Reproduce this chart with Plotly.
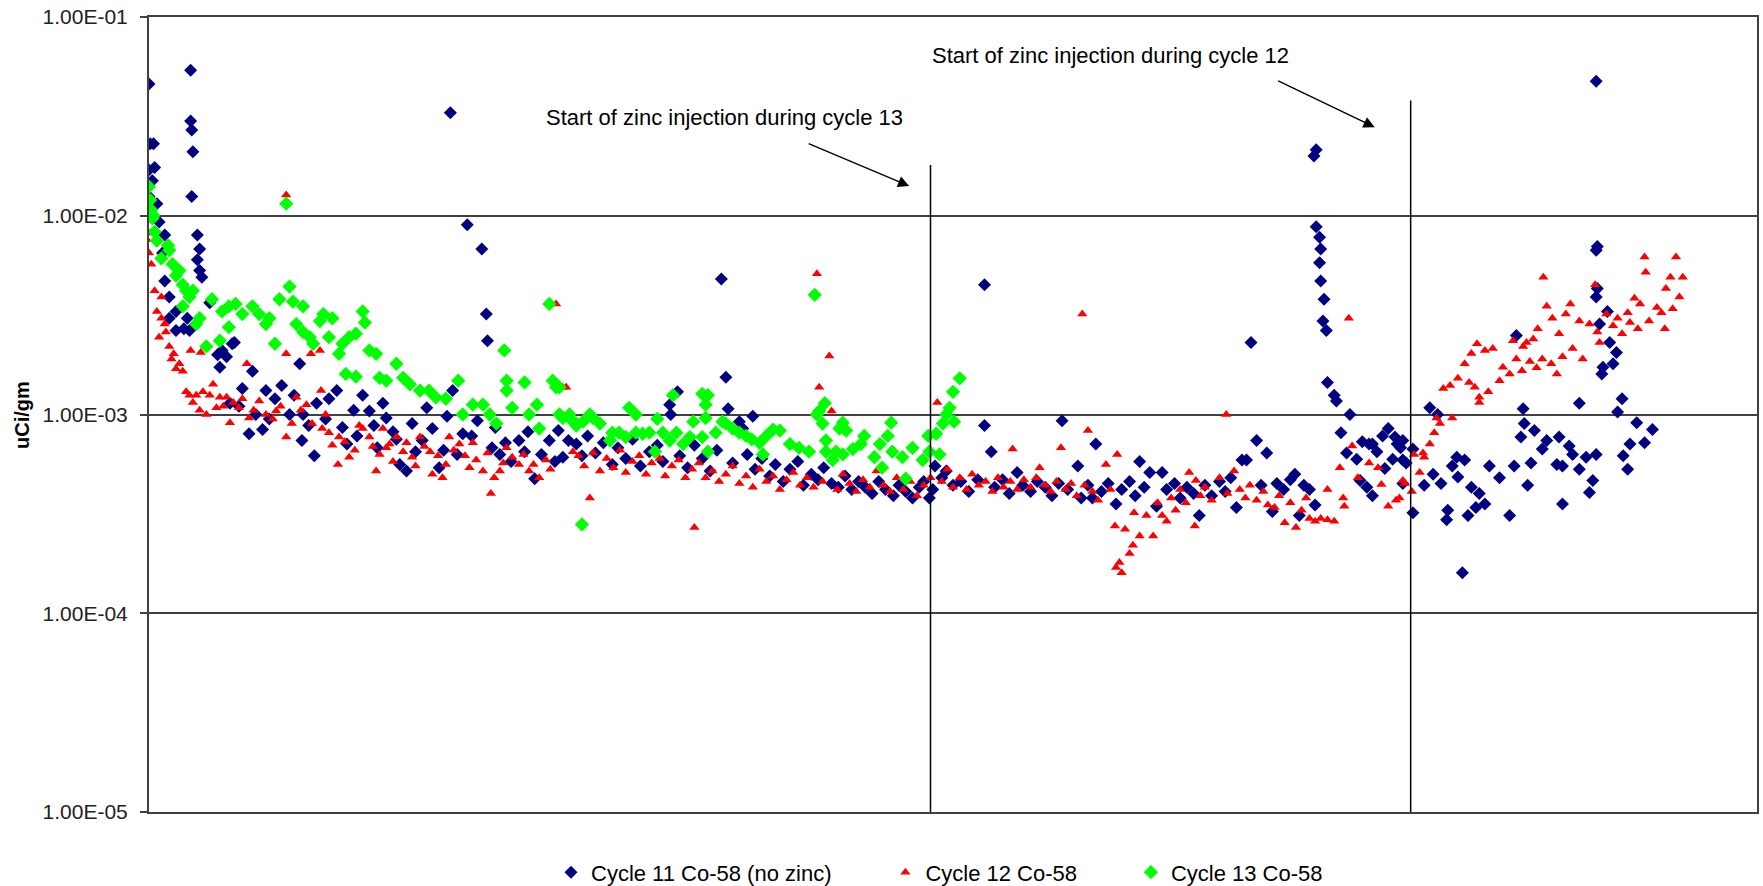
import math
import plotly.graph_objects as go

# ---------------- data (x = sample position along the run, y = uCi/gm) ----------------
cycle11 = [
    (133, 4.6e-2), (134, 2.3e-2), (137, 2.3e-2), (133, 1.7e-2), (138, 1.75e-2), (136, 1.5e-2),
    (133, 1.25e-2), (140, 1.15e-2), (142, 9.3e-3), (147, 8.0e-3), (145, 6.5e-3), (147, 4.7e-3),
    (151, 3.9e-3), (151, 3.05e-3), (157, 3.3e-3), (157, 2.65e-3), (164, 2.7e-3), (167, 3.05e-3),
    (169, 2.65e-3), (170, 5.4e-2), (170, 3.0e-2), (171, 2.7e-2), (172, 2.1e-2), (171, 1.25e-2),
    (176, 8.0e-3), (178, 6.8e-3), (176, 6.0e-3), (178, 5.3e-3), (180, 4.9e-3), (187, 3.65e-3),
    (194, 2.0e-3), (196, 1.73e-3), (198, 2.1e-3), (202, 1.95e-3), (207, 2.27e-3), (209, 2.3e-3),
    (205, 1.14e-3), (213, 1.1e-3), (216, 1.35e-3), (222, 8.0e-4), (225, 1.65e-3), (228, 1.0e-3),
    (234, 8.4e-4), (237, 1.32e-3), (240, 9.5e-4), (245, 1.2e-3), (251, 1.4e-3), (258, 1.0e-3),
    (262, 1.25e-3), (267, 1.8e-3), (269, 7.4e-4), (270, 1.0e-3), (275, 8.8e-4), (280, 6.2e-4),
    (282, 1.14e-3), (290, 9.5e-4), (293, 1.2e-3), (300, 1.32e-3), (305, 8.6e-4), (309, 7.1e-4),
    (315, 1.05e-3), (318, 7.8e-4), (323, 1.25e-3), (329, 1.04e-3), (333, 8.8e-4), (336, 6.8e-4),
    (341, 1.14e-3), (344, 9.6e-4), (350, 8.2e-4), (353, 7.5e-4), (356, 5.6e-4), (362, 5.2e-4),
    (367, 9.0e-4), (370, 6.5e-4), (376, 7.4e-4), (380, 1.08e-3), (385, 8.5e-4), (391, 5.4e-4),
    (395, 6.6e-4), (398, 9.8e-4), (401, 3.3e-2), (403, 1.32e-3), (407, 6.3e-4), (412, 8.0e-4),
    (416, 9.0e-3), (420, 7.8e-4), (425, 9.3e-4), (429, 6.8e-3), (433, 3.2e-3), (434, 2.35e-3),
    (438, 6.8e-4), (441, 8.6e-4), (445, 6.3e-4), (450, 7.2e-4), (455, 5.8e-4), (462, 7.4e-4),
    (467, 6.5e-4), (470, 8.2e-4), (476, 4.75e-4), (482, 6.3e-4), (489, 7.4e-4), (494, 5.8e-4),
    (497, 8.3e-4), (501, 6.1e-4), (506, 7.4e-4), (513, 7.1e-4), (518, 6.2e-4),
    (523, 7.8e-4), (530, 6.4e-4), (537, 7.2e-4), (545, 5.6e-4), (550, 6.8e-4), (557, 6.0e-4),
    (563, 7.5e-4), (570, 5.5e-4), (578, 6.5e-4), (585, 7.0e-4), (590, 5.8e-4), (596, 1.12e-3),
    (597, 1.0e-3), (603, 1.3e-3), (605, 6.2e-4), (612, 5.4e-4), (618, 7.0e-4), (625, 6.0e-4),
    (632, 5.2e-4), (638, 6.6e-4), (642, 4.8e-3), (646, 1.54e-3), (648, 1.07e-3), (652, 5.7e-4),
    (658, 9.2e-4), (661, 8.5e-4), (665, 6.3e-4), (670, 9.8e-4), (672, 5.3e-4), (678, 6.0e-4),
    (685, 4.9e-4), (690, 5.6e-4), (697, 4.6e-4), (703, 5.3e-4), (710, 5.8e-4), (715, 4.4e-4),
    (722, 5.0e-4), (728, 4.7e-4), (733, 5.4e-4), (740, 4.5e-4), (746, 4.3e-4), (752, 4.9e-4),
    (758, 4.2e-4), (764, 4.6e-4), (770, 4.3e-4), (776, 4.0e-4), (782, 4.6e-4), (788, 4.2e-4),
    (795, 3.9e-4), (800, 4.4e-4), (806, 4.1e-4), (812, 3.8e-4), (818, 4.3e-4), (822, 4.6e-4),
    (827, 3.8e-4), (830, 4.2e-4),
    (832, 5.5e-4), (838, 4.8e-4), (842, 5.2e-4), (848, 4.4e-4), (855, 4.6e-4), (862, 4.1e-4),
    (870, 4.7e-4), (876, 8.8e-4), (876, 4.5e-3), (882, 6.5e-4), (885, 4.3e-4), (892, 4.7e-4),
    (898, 4.0e-4), (905, 5.1e-4), (910, 4.4e-4), (917, 4.1e-4), (923, 4.6e-4), (930, 4.3e-4),
    (936, 3.9e-4), (945, 9.3e-4), (942, 4.5e-4), (950, 4.2e-4), (959, 5.5e-4), (962, 3.8e-4),
    (968, 4.4e-4), (972, 3.8e-4), (975, 7.1e-4), (980, 4.1e-4), (986, 4.5e-4), (993, 3.55e-4),
    (998, 4.2e-4), (1005, 4.6e-4), (1010, 3.9e-4), (1014, 5.8e-4), (1018, 4.3e-4), (1023, 5.1e-4),
    (1029, 3.45e-4), (1034, 5.1e-4), (1038, 4.2e-4), (1045, 4.5e-4), (1050, 3.8e-4), (1056, 4.3e-4),
    (1062, 4.0e-4), (1067, 3.1e-4), (1072, 4.4e-4), (1078, 3.9e-4), (1085, 4.6e-4), (1090, 4.1e-4),
    (1095, 4.8e-4), (1100, 3.4e-4), (1105, 5.9e-4), (1109, 5.9e-4), (1113, 2.3e-3), (1118, 7.4e-4),
    (1122, 4.4e-4), (1127, 6.4e-4), (1132, 3.25e-4), (1136, 4.5e-4), (1142, 4.2e-4), (1148, 4.7e-4),
    (1152, 5.0e-4), (1156, 3.1e-4), (1160, 4.4e-4), (1165, 4.2e-4), (1170, 3.5e-4),
    (1171, 2.15e-2), (1169, 2.0e-2), (1171, 8.8e-3), (1174, 7.8e-3), (1175, 6.8e-3), (1174, 5.8e-3),
    (1175, 4.7e-3), (1178, 3.8e-3), (1177, 2.95e-3), (1180, 2.65e-3), (1181, 1.45e-3), (1187, 1.25e-3),
    (1189, 1.17e-3), (1201, 1.0e-3), (1193, 8.1e-4), (1198, 6.4e-4), (1207, 5.95e-4), (1212, 7.3e-4),
    (1218, 7.1e-4), (1221, 7.1e-4), (1225, 6.5e-4), (1230, 7.8e-4), (1235, 8.5e-4), (1241, 7.7e-4),
    (1243, 7.1e-4), (1239, 5.95e-4), (1232, 5.35e-4), (1246, 6.8e-4), (1248, 5.9e-4), (1210, 4.65e-4),
    (1221, 3.9e-4), (1216, 4.3e-4), (1257, 3.2e-4),
    (1248, 4.5e-4), (1257, 6.7e-4), (1248, 7.4e-4), (1251, 5.7e-4), (1272, 1.08e-3), (1279, 1.0e-3),
    (1296, 6.1e-4), (1303, 5.9e-4), (1292, 5.5e-4), (1297, 4.85e-4), (1282, 4.5e-4), (1275, 5.0e-4),
    (1267, 4.4e-4), (1309, 4.3e-4), (1316, 4.0e-4), (1321, 3.55e-4), (1313, 3.4e-4), (1306, 3.1e-4),
    (1288, 3.3e-4), (1287, 2.95e-4), (1301, 1.6e-4), (1325, 5.5e-4), (1334, 4.8e-4), (1343, 3.1e-4),
    (1347, 5.5e-4), (1349, 2.5e-3), (1353, 7.7e-4), (1355, 1.07e-3), (1356, 9.0e-4), (1359, 4.4e-4),
    (1362, 5.7e-4), (1365, 8.3e-4), (1372, 6.7e-4), (1376, 7.4e-4), (1385, 5.6e-4), (1387, 7.7e-4),
    (1390, 5.5e-4), (1390, 3.55e-4), (1396, 6.95e-4), (1399, 6.3e-4), (1405, 1.14e-3), (1405, 5.3e-4),
    (1411, 6.1e-4), (1414, 4.05e-4), (1417, 4.65e-4), (1420, 6.3e-4), (1420, 4.75e-2), (1421, 7.0e-3),
    (1420, 6.7e-3), (1421, 4.3e-3), (1420, 3.9e-3), (1430, 3.3e-3), (1423, 2.85e-3), (1432, 2.3e-3),
    (1438, 2.05e-3), (1435, 1.8e-3), (1426, 1.73e-3), (1425, 1.6e-3), (1443, 1.2e-3), (1439, 1.03e-3),
    (1444, 6.2e-4), (1448, 5.3e-4), (1450, 7.1e-4), (1456, 9.1e-4), (1463, 7.2e-4), (1470, 8.4e-4),
]

cycle12 = [
    (131, 7.6e-3), (133, 6.5e-3), (135, 5.7e-3), (134, 8.2e-3), (138, 4.2e-3), (140, 3.3e-3),
    (144, 3.9e-3), (144, 3.05e-3), (147, 2.85e-3), (142, 2.45e-3), (148, 2.6e-3), (151, 2.2e-3),
    (153, 1.9e-3), (155, 2.02e-3), (157, 1.7e-3), (160, 1.8e-3), (163, 1.65e-3), (166, 1.3e-3),
    (170, 2.1e-3), (172, 1.15e-3), (179, 2.05e-3), (169, 1.25e-3), (175, 1.25e-3), (178, 1.05e-3),
    (181, 1.3e-3), (187, 1.25e-3), (196, 1.22e-3), (190, 1.42e-3), (184, 1.0e-3), (193, 1.08e-3),
    (199, 1.1e-3), (202, 1.22e-3), (205, 9.1e-4), (208, 1.15e-3), (213, 1.08e-3), (216, 1.2e-3),
    (220, 1.8e-3), (222, 9.6e-4), (226, 1.05e-3), (231, 1.17e-3), (237, 1.0e-3), (243, 9.5e-4),
    (246, 1.04e-3), (250, 1.1e-3), (255, 2.02e-3), (255, 7.7e-4), (255, 1.27e-2), (260, 9.0e-4),
    (264, 1.22e-3), (268, 1.05e-3), (273, 1.12e-3), (277, 2.02e-3), (278, 9.0e-4), (285, 2.1e-3),
    (286, 1.32e-3), (287, 8.5e-4), (290, 1.0e-3), (293, 8.1e-4), (296, 7.0e-4), (302, 7.7e-4),
    (301, 5.6e-4), (307, 7.3e-4), (311, 6.1e-4), (316, 6.6e-4), (320, 8.8e-4), (323, 8.5e-4),
    (329, 7.7e-4), (332, 6.9e-4), (335, 5.2e-4), (338, 6.3e-4), (341, 8.5e-4), (344, 6.8e-4),
    (347, 7.1e-4), (350, 5.8e-4), (353, 7.7e-4), (359, 6.5e-4), (362, 7.2e-4), (367, 6.1e-4),
    (370, 5.5e-4), (374, 7.7e-4), (378, 6.9e-4), (383, 6.5e-4), (385, 5.0e-4), (390, 6.2e-4),
    (394, 4.8e-4), (397, 5.6e-4), (400, 7.7e-4), (404, 6.6e-4), (409, 7.1e-4), (414, 6.2e-4),
    (418, 5.4e-4), (421, 7.2e-4), (424, 5.9e-4), (430, 5.2e-4), (434, 6.4e-4), (437, 4.0e-4),
    (440, 4.8e-4), (445, 5.2e-4), (448, 5.7e-4), (451, 6.8e-4), (456, 6.1e-4), (462, 5.6e-4),
    (466, 6.3e-4), (471, 5.2e-4), (475, 5.6e-4), (480, 4.8e-4), (486, 5.9e-4), (490, 5.3e-4),
    (495, 3.6e-3), (501, 1.37e-3), (504, 1.37e-3), (510, 6.5e-4),
    (515, 6.2e-4), (520, 5.5e-4), (525, 3.8e-4), (528, 6.4e-4), (534, 5.2e-4), (540, 6.0e-4),
    (546, 5.4e-4), (552, 6.6e-4), (557, 5.1e-4), (563, 5.8e-4), (569, 6.2e-4), (575, 5.0e-4),
    (580, 5.7e-4), (587, 6.0e-4), (592, 4.9e-4), (598, 5.5e-4), (604, 5.9e-4), (610, 4.8e-4),
    (616, 5.3e-4), (618, 2.7e-4), (622, 5.7e-4), (628, 4.8e-4), (634, 5.2e-4), (640, 4.6e-4),
    (646, 5.0e-4), (652, 5.5e-4), (658, 4.5e-4), (664, 4.9e-4), (670, 4.3e-4), (676, 5.3e-4),
    (682, 4.6e-4), (688, 4.9e-4), (694, 4.2e-4), (700, 4.7e-4), (706, 5.1e-4), (712, 4.4e-4),
    (718, 4.8e-4), (724, 4.3e-4), (727, 5.1e-3), (729, 1.37e-3), (738, 1.97e-3), (740, 1.04e-3),
    (732, 4.6e-4), (745, 4.2e-4), (750, 5.0e-4), (756, 4.5e-4), (762, 4.1e-4), (768, 4.7e-4),
    (774, 4.3e-4), (780, 5.2e-4), (786, 4.4e-4), (792, 4.1e-4), (798, 4.8e-4), (804, 4.2e-4),
    (810, 4.6e-4), (816, 3.9e-4), (822, 4.4e-4), (828, 4.8e-4), (834, 1.15e-3),
    (838, 4.6e-4), (843, 5.3e-4), (848, 4.3e-4), (854, 4.8e-4), (860, 4.2e-4), (865, 5.0e-4),
    (871, 4.4e-4), (877, 4.6e-4), (883, 4.1e-4), (888, 4.8e-4), (893, 4.3e-4), (899, 4.6e-4),
    (901, 6.7e-4), (905, 4.2e-4), (911, 4.7e-4), (917, 4.3e-4), (922, 4.8e-4), (925, 5.4e-4),
    (930, 4.4e-4), (935, 4.1e-4), (940, 4.6e-4), (944, 6.8e-4), (948, 4.2e-4), (953, 4.5e-4),
    (958, 3.9e-4), (963, 3.2e-3), (965, 4.4e-4), (968, 8.3e-4), (972, 4.1e-4), (977, 3.7e-4),
    (984, 5.6e-4), (988, 4.2e-4), (992, 2.75e-4), (994, 6.3e-4), (996, 1.8e-4), (993, 1.7e-4),
    (998, 1.6e-4), (1001, 2.65e-4), (1005, 2.0e-4), (1008, 2.2e-4), (1009, 3.2e-4), (1014, 2.45e-4),
    (1020, 3.1e-4), (1026, 2.45e-4), (1030, 3.6e-4), (1034, 3.1e-4), (1038, 2.9e-4), (1042, 3.8e-4),
    (1046, 3.3e-4), (1050, 4.2e-4), (1055, 3.6e-4), (1058, 5.1e-4), (1063, 2.75e-4), (1064, 4.65e-4),
    (1068, 3.9e-4), (1072, 4.3e-4), (1078, 3.7e-4), (1085, 4.8e-4), (1091, 1.0e-3), (1092, 4.0e-4),
    (1098, 5.2e-4), (1103, 4.2e-4), (1108, 3.8e-4), (1112, 4.4e-4), (1118, 3.7e-4), (1124, 4.1e-4),
    (1128, 3.5e-4), (1134, 3.4e-4), (1138, 3.9e-4), (1143, 2.85e-4), (1148, 3.6e-4), (1153, 2.7e-4),
    (1158, 3.3e-4), (1162, 3.8e-4), (1165, 3.0e-4), (1170, 2.9e-4), (1175, 3.0e-4), (1181, 2.95e-4),
    (1181, 4.2e-4), (1187, 2.9e-4), (1192, 5.4e-4), (1195, 3.8e-4), (1196, 3.45e-4), (1200, 3.05e-3),
    (1203, 6.95e-4), (1208, 4.8e-4), (1218, 5.7e-4), (1226, 5.4e-4), (1229, 4.45e-4), (1235, 3.45e-4),
    (1242, 3.7e-4), (1248, 4.65e-4), (1245, 3.8e-4), (1250, 4.5e-4), (1256, 4.1e-4), (1258, 6.3e-4),
    (1263, 5.1e-4), (1266, 6.4e-4), (1267, 6.1e-4), (1272, 7.1e-4), (1276, 8.1e-4), (1278, 9.6e-4),
    (1281, 9.0e-4), (1284, 1.35e-3), (1290, 1.4e-3), (1292, 9.6e-4), (1297, 1.52e-3), (1303, 1.8e-3),
    (1307, 1.45e-3), (1309, 2.03e-3), (1312, 1.37e-3), (1314, 2.27e-3), (1316, 1.22e-3), (1316, 1.15e-3),
    (1321, 2.1e-3), (1324, 1.3e-3), (1328, 2.15e-3), (1334, 1.48e-3), (1337, 1.73e-3), (1343, 1.6e-3),
    (1346, 2.35e-3), (1349, 1.9e-3), (1354, 1.66e-3), (1355, 2.2e-3), (1358, 2.3e-3), (1361, 1.85e-3),
    (1364, 2.4e-3), (1367, 1.72e-3), (1368, 2.7e-3), (1372, 1.9e-3), (1373, 4.9e-3), (1376, 3.5e-3),
    (1380, 1.8e-3), (1381, 3.05e-3), (1385, 1.6e-3), (1387, 2.55e-3), (1390, 1.95e-3), (1393, 3.2e-3),
    (1397, 3.6e-3), (1399, 2.15e-3), (1405, 2.95e-3), (1408, 1.9e-3), (1414, 2.85e-3), (1419, 4.5e-3),
    (1421, 2.6e-3), (1423, 2.3e-3), (1429, 3.2e-3), (1435, 2.8e-3), (1439, 3.05e-3), (1443, 2.55e-3),
    (1448, 3.25e-3), (1450, 2.9e-3), (1454, 3.85e-3), (1457, 2.7e-3), (1459, 3.6e-3), (1463, 6.2e-3),
    (1464, 5.2e-3), (1467, 2.95e-3), (1474, 3.45e-3), (1478, 3.25e-3), (1481, 2.7e-3), (1482, 4.3e-3),
    (1486, 4.9e-3), (1488, 3.4e-3), (1491, 6.2e-3), (1494, 3.9e-3), (1497, 4.9e-3),
]

cycle13 = [
    (133, 1.4e-2), (134, 1.2e-2), (135, 1.07e-2), (136, 9.7e-3), (138, 8.3e-3), (137, 1.0e-2),
    (140, 7.5e-3), (144, 6.1e-3), (150, 7.1e-3), (151, 6.7e-3), (154, 5.7e-3), (157, 5.0e-3),
    (160, 5.3e-3), (163, 4.5e-3), (166, 4.2e-3), (169, 3.9e-3), (172, 4.2e-3), (163, 3.5e-3),
    (175, 2.85e-3), (178, 3.05e-3), (184, 2.2e-3), (189, 3.8e-3), (196, 2.35e-3), (198, 3.3e-3),
    (204, 3.5e-3), (204, 2.75e-3), (210, 3.6e-3), (216, 3.2e-3), (225, 3.5e-3), (231, 3.2e-3),
    (237, 2.85e-3), (240, 3.05e-3), (245, 2.27e-3), (249, 3.8e-3), (255, 1.15e-2), (258, 4.4e-3),
    (261, 3.7e-3), (264, 2.85e-3), (270, 3.5e-3), (270, 2.6e-3), (276, 2.45e-3), (279, 2.27e-3),
    (285, 2.95e-3), (288, 3.2e-3), (293, 2.45e-3), (296, 3.05e-3), (302, 2.02e-3), (305, 2.27e-3),
    (308, 1.6e-3), (311, 2.45e-3), (317, 2.55e-3), (317, 1.55e-3), (323, 3.3e-3), (325, 2.9e-3),
    (329, 2.1e-3), (335, 2.02e-3), (338, 1.53e-3), (344, 1.48e-3), (353, 1.8e-3), (359, 1.53e-3),
    (365, 1.42e-3), (374, 1.32e-3), (382, 1.32e-3), (388, 1.22e-3), (397, 1.2e-3), (408, 1.48e-3),
    (412, 1.0e-3), (421, 1.12e-3), (430, 1.12e-3), (436, 1.0e-3), (442, 9.0e-4), (449, 2.1e-3),
    (451, 1.48e-3), (451, 1.32e-3), (456, 1.08e-3), (467, 1.45e-3), (471, 1.0e-3), (478, 1.12e-3),
    (480, 8.5e-4), (489, 3.6e-3), (492, 1.48e-3), (495, 1.37e-3), (498, 1.0e-3), (498, 1.37e-3),
    (501, 9.6e-4), (507, 1.0e-3), (507, 9.6e-4), (513, 9.0e-4), (513, 8.8e-4), (518, 2.8e-4),
    (519, 9.2e-4), (525, 1.0e-3), (528, 9.6e-4), (534, 9.0e-4), (543, 7.4e-4), (545, 8.1e-4),
    (551, 8.1e-4), (557, 7.7e-4), (560, 1.08e-3), (566, 1.0e-3), (566, 8.1e-4), (572, 8.0e-4),
    (578, 8.1e-4), (583, 6.5e-4), (585, 9.5e-4), (590, 8.1e-4), (596, 7.4e-4), (599, 1.25e-3),
    (602, 8.1e-4), (608, 7.1e-4), (614, 7.7e-4), (617, 9.2e-4), (625, 7.7e-4), (625, 1.27e-3),
    (628, 9.6e-4), (628, 1.12e-3), (630, 1.25e-3), (630, 6.5e-4), (637, 8.1e-4), (643, 9.2e-4),
    (646, 9.0e-4), (652, 8.5e-4), (658, 8.1e-4), (664, 7.8e-4), (669, 7.5e-4), (676, 7.2e-4),
    (679, 6.3e-4), (682, 7.8e-4), (688, 8.4e-4), (694, 8.3e-4), (703, 7.1e-4), (711, 6.8e-4),
    (720, 6.5e-4), (725, 4.0e-3), (727, 1.0e-3), (729, 1.04e-3), (734, 1.14e-3), (732, 9.0e-4),
    (735, 7.4e-4), (735, 6.5e-4), (741, 5.9e-4), (744, 6.5e-4), (747, 8.5e-4), (750, 9.1e-4),
    (750, 6.3e-4), (753, 8.3e-4), (759, 6.7e-4), (766, 7.1e-4), (769, 7.8e-4), (778, 6.1e-4),
    (783, 7.1e-4), (785, 5.4e-4), (790, 7.8e-4), (793, 9.1e-4), (794, 6.5e-4), (803, 6.1e-4),
    (806, 4.75e-4), (812, 6.8e-4), (821, 5.9e-4), (826, 7.8e-4), (827, 6.5e-4), (833, 8.0e-4),
    (836, 6.3e-4), (839, 9.0e-4), (842, 1.0e-3), (845, 1.08e-3), (848, 1.3e-3), (849, 9.2e-4),
    (854, 1.52e-3),
]

series_names = ["Cycle 11 Co-58 (no zinc)", "Cycle 12 Co-58", "Cycle 13 Co-58"]
series_colors = ["#000080", "#FF0000", "#00FF00"]

zinc_start_x = [828, 1255]          # start of zinc injection (cycle 13, cycle 12)
zinc_line_top = [1.8e-2, 3.8e-2]
zinc_labels = ["Start of zinc injection during cycle 13", "Start of zinc injection during cycle 12"]

y_tick_vals = [1e-5, 1e-4, 1e-3, 1e-2, 1e-1]
y_tick_text = ["1.00E-05", "1.00E-04", "1.00E-03", "1.00E-02", "1.00E-01"]

X_MIN, X_MAX = 133, 1563

# ---------------- figure ----------------
fig = go.Figure()

symbols = ["diamond", "triangle-up", "diamond"]
sizes = [10, 9, 11]
pad = "\u00a0" * 8   # extra space after each legend entry
for pts, name, color, sym, sz in zip([cycle11, cycle12, cycle13], series_names,
                                      series_colors, symbols, sizes):
    fig.add_trace(go.Scatter(
        x=[p[0] for p in pts], y=[p[1] for p in pts],
        mode="markers", name=name + pad,
        marker=dict(symbol=sym, size=sz, color=color, line=dict(width=0)),
    ))

# vertical marker lines for zinc injection start
for xv, top in zip(zinc_start_x, zinc_line_top):
    fig.add_trace(go.Scatter(
        x=[xv, xv], y=[1e-5, top], mode="lines",
        line=dict(color="#000000", width=1.5),
        showlegend=False, hoverinfo="skip",
    ))

txt_font = dict(family="Liberation Sans, Arial, sans-serif", size=22, color="#000000")

# labels + arrows
label_pos = [(645, 3.13e-2), (988, 6.4e-2)]
arrow_head = [(809, 1.41e-2), (1223, 2.79e-2)]
arrow_tail_offset = [(-102, -43), (-98, -47)]
for lab, (lx, ly), (hx, hy), (ax, ay) in zip(zinc_labels, label_pos, arrow_head, arrow_tail_offset):
    fig.add_annotation(x=lx, y=math.log10(ly), xref="x", yref="y", text=lab,
                       showarrow=False, font=txt_font, xanchor="center", yanchor="middle")
    fig.add_annotation(x=hx, y=math.log10(hy), xref="x", yref="y", text="",
                       showarrow=True, ax=ax, ay=ay, arrowhead=2, arrowsize=1.6,
                       arrowwidth=1.4, arrowcolor="#000000")

# y-axis title
fig.add_annotation(x=-0.0793, y=0.5, xref="paper", yref="paper", text="<b>uCi/gm</b>",
                   textangle=-90, showarrow=False, xanchor="center", yanchor="middle",
                   font=dict(family="Liberation Sans, Arial, sans-serif", size=20, color="#000000"))

axis_line = "#404040"
fig.update_layout(
    width=1763, height=886,
    margin=dict(l=149, r=6, t=17, b=74, autoexpand=False),
    paper_bgcolor="#FFFFFF", plot_bgcolor="#FFFFFF",
    font=txt_font,
    showlegend=True,
    legend=dict(orientation="h", x=0.25, y=-0.076, xanchor="left", yanchor="middle",
                font=dict(family="Liberation Sans, Arial, sans-serif", size=22, color="#000000"),
                bgcolor="rgba(0,0,0,0)", itemwidth=30),
    xaxis=dict(range=[X_MIN, X_MAX], showticklabels=False, showgrid=False, zeroline=False,
               showline=True, linecolor=axis_line, linewidth=2, mirror=True, ticks="",
               automargin=False),
    yaxis=dict(type="log", range=[-5, -1], tickvals=y_tick_vals, ticktext=y_tick_text,
               showgrid=True, gridcolor=axis_line, gridwidth=2, zeroline=False,
               showline=True, linecolor=axis_line, linewidth=2, mirror=True,
               ticks="outside", ticklen=7, tickwidth=2, tickcolor=axis_line,
               ticklabelstandoff=8, automargin=False, ticklabeloverflow="allow",
               tickfont=dict(family="Liberation Sans, Arial, sans-serif", size=21, color="#222222")),
)

# remove the default page margin so the 1763x886 figure fills the window exactly
fig.write_html("out.html",
               config={"displayModeBar": False},
               post_script="document.body.style.margin='0';document.body.style.overflow='hidden';")
